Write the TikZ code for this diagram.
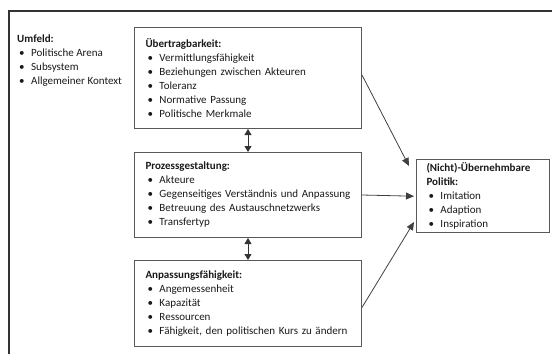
\documentclass[tikz,border=0pt]{standalone}
\usepackage{fontspec}
\setmainfont{Carlito}
\usepackage{tikz}
\pgfdeclarelayer{nodelayer}
\pgfdeclarelayer{edgelayer}
\pgfsetlayers{edgelayer,nodelayer,main}
\usetikzlibrary{arrows.meta}
\newcommand{\itm}[1]{\\\hspace*{2pt}\makebox[12pt][l]{\textbullet}#1}

\begin{document}
\begin{tikzpicture}[x=1pt,y=-1pt,
	box/.style={draw=black!65,line width=1pt,anchor=north west,align=left,inner xsep=11pt,
		font=\fontsize{11}{14}\selectfont,text=black!90},
	link/.style={line width=0.8pt,draw=black!75,-{Triangle[length=8pt,width=7pt]}},
	both/.style={line width=0.8pt,draw=black!80,{Triangle[length=6pt,width=7pt]}-{Triangle[length=6pt,width=7pt]}}]
	\useasboundingbox (0,0) rectangle (552,354);
	\begin{pgfonlayer}{nodelayer}
		\node [anchor=north west,align=left,inner sep=0pt,font=\fontsize{11}{14}\selectfont,text=black!90] (umf) at (17,35)
			{\textbf{Umfeld:}\itm{Politische Arena}\itm{Subsystem}\itm{Allgemeiner Kontext}};
		\node [box,text width=205pt,minimum height=101pt] (uebr) at (134,27)
			{\textbf{Übertragbarkeit:}\itm{Vermittlungsfähigkeit}\itm{Beziehungen zwischen Akteuren}\itm{Toleranz}\itm{Normative Passung}\itm{Politische Merkmale}};
		\node [box,text width=205pt,minimum height=85pt] (proz) at (134,152)
			{\textbf{Prozessgestaltung:}\itm{Akteure}\itm{Gegenseitiges Verständnis und Anpassung}\itm{Betreuung des Austauschnetzwerks}\itm{Transfertyp}};
		\node [box,text width=205pt,minimum height=86pt] (anp) at (134,260)
			{\textbf{Anpassungsfähigkeit:}\itm{Angemessenheit}\itm{Kapazität}\itm{Ressourcen}\itm{Fähigkeit, den politischen Kurs zu ändern}};
		\node [box,inner xsep=10pt,text width=113pt,minimum height=70pt] (pol) at (416,159)
			{\textbf{(Nicht)-Übernehmbare}\\\textbf{Politik:}\itm{Imitation}\itm{Adaption}\itm{Inspiration}};
		\coordinate (in1) at (409,166);
		\coordinate (in3) at (414,222);
	\end{pgfonlayer}
	\begin{pgfonlayer}{edgelayer}
		\draw [line width=2pt,draw=black!80] (9,354) -- (9,11) -- (552,11);
		\draw [both] (uebr.south) to (proz.north);
		\draw [both] (proz.south) to (anp.north);
		\draw [link] ([yshift=3pt]uebr.east) to (in1);
		\draw [link] (proz.east) to ([xshift=-2pt]pol.west);
		\draw [link] ([yshift=-4pt]anp.east) to (in3);
	\end{pgfonlayer}
\end{tikzpicture}
\end{document}
